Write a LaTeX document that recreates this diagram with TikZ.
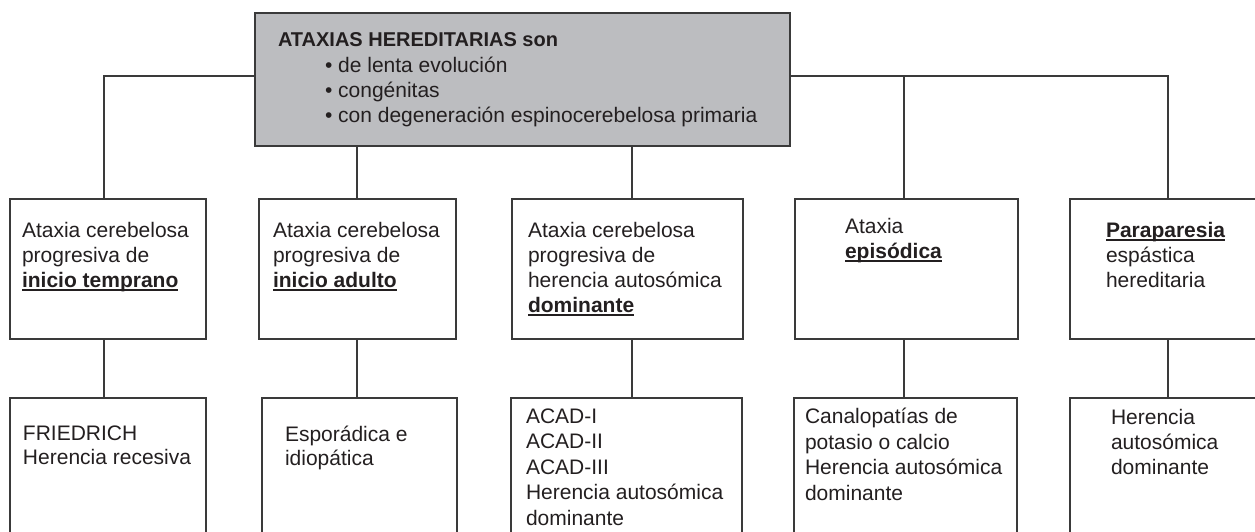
\documentclass[tikz,border=0pt]{standalone}
\usepackage{fontspec}
\setmainfont{Liberation Sans}
\definecolor{linec}{HTML}{3A3A3A}
\definecolor{fillc}{HTML}{BCBDC0}
\definecolor{textc}{HTML}{231F20}
\newsavebox\ulbox
\newcommand{\myul}[1]{\sbox\ulbox{#1}\rlap{\rule[-3.6pt]{\wd\ulbox}{1.3pt}}\usebox\ulbox}
\tikzset{
  box/.style={draw=linec, line width=1.4pt, inner sep=0pt, outer sep=0pt, anchor=north west},
  topbox/.style={box, fill=fillc},
  txt/.style={anchor=base west, inner sep=0pt, outer sep=0pt, align=left, text=textc, font=\fontsize{21}{25}\selectfont},
  conn/.style={draw=linec, line width=1.4pt}
}
\begin{document}
\begin{tikzpicture}[x=1pt, y=-1pt]
\useasboundingbox (0,0) rectangle (1255,532);
\clip (0,0) rectangle (1255,532);

% (text nodes are anchored at the baseline of their LAST line)
% top box
\node[topbox, minimum width=535pt, minimum height=133pt] (top) at (255,13) {};
\node[txt, font=\fontsize{20}{25}\selectfont\bfseries] (title) at (278,47) {ATAXIAS HEREDITARIAS son};
\node[txt, font=\fontsize{21}{25.5}\selectfont] (bul) at (325,123) {• de lenta evolución\\• congénitas\\• con degeneración espinocerebelosa primaria};

% level 2
\node[box, minimum width=196pt, minimum height=140pt] (b1) at (10,199) {};
\node[box, minimum width=197pt, minimum height=140pt] (b2) at (259,199) {};
\node[box, minimum width=231pt, minimum height=140pt] (b3) at (512,199) {};
\node[box, minimum width=223pt, minimum height=140pt] (b4) at (795,199) {};
\node[box, minimum width=230pt, minimum height=140pt] (b5) at (1070,199) {};

\node[txt] (t1) at (22,287) {Ataxia cerebelosa\\progresiva de\\\myul{\textbf{inicio temprano}}};
\node[txt] (t2) at (273,287) {Ataxia cerebelosa\\progresiva de\\\myul{\textbf{inicio adulto}}};
\node[txt] (t3) at (528,312) {Ataxia cerebelosa\\progresiva de\\herencia autosómica\\\myul{\textbf{dominante}}};
\node[txt] (t4) at (845,258) {Ataxia\\\myul{\textbf{episódica}}};
\node[txt] (t5) at (1106,287) {\myul{\textbf{Paraparesia}}\\espástica\\hereditaria};

% level 3
\node[box, minimum width=196pt, minimum height=170pt] (c1) at (10,398) {};
\node[box, minimum width=195pt, minimum height=170pt] (c2) at (262,398) {};
\node[box, minimum width=231pt, minimum height=170pt] (c3) at (511,398) {};
\node[box, minimum width=223pt, minimum height=170pt] (c4) at (794,398) {};
\node[box, minimum width=230pt, minimum height=170pt] (c5) at (1070,398) {};

\node[txt, font=\fontsize{21}{24}\selectfont] (u1) at (23,464) {FRIEDRICH\\Herencia recesiva};
\node[txt, font=\fontsize{21}{23.5}\selectfont] (u2) at (285,465) {Esporádica e\\idiopática};
\node[txt, font=\fontsize{21}{25.5}\selectfont] (u3) at (526,525) {ACAD-I\\ACAD-II\\ACAD-III\\Herencia autosómica\\dominante};
\node[txt, font=\fontsize{21}{25.5}\selectfont] (u4) at (805,500) {Canalopatías de\\potasio o calcio\\Herencia autosómica\\dominante};
\node[txt] (u5) at (1111,474) {Herencia\\autosómica\\dominante};

% connector columns
\coordinate (k1) at (104,76);
\coordinate (k2) at (357,76);
\coordinate (k3) at (632,76);
\coordinate (k4) at (904,76);
\coordinate (k5) at (1168,76);

\draw[conn] (top.west |- k1) -- (k1) -- (k1 |- b1.north);
\draw[conn] (k2 |- top.south) -- (k2 |- b2.north);
\draw[conn] (k3 |- top.south) -- (k3 |- b3.north);
\draw[conn] (top.east |- k5) -- (k5) -- (k5 |- b5.north);
\draw[conn] (k4) -- (k4 |- b4.north);

\draw[conn] (k1 |- b1.south) -- (k1 |- c1.north);
\draw[conn] (k2 |- b2.south) -- (k2 |- c2.north);
\draw[conn] (k3 |- b3.south) -- (k3 |- c3.north);
\draw[conn] (k4 |- b4.south) -- (k4 |- c4.north);
\draw[conn] (k5 |- b5.south) -- (k5 |- c5.north);
\end{tikzpicture}
\end{document}
